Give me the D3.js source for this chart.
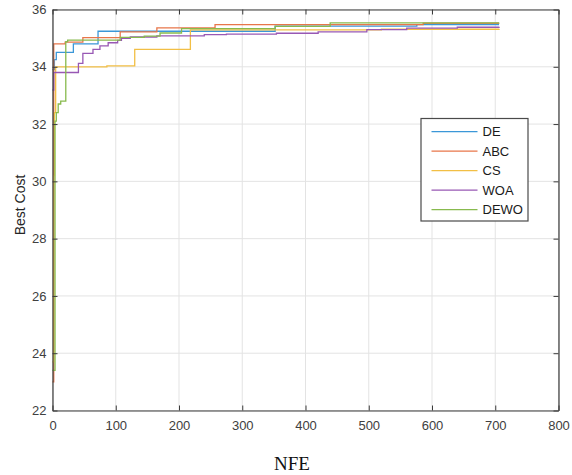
<!DOCTYPE html>
<html>
<head>
<meta charset="utf-8">
<script src="https://d3js.org/d3.v7.min.js"></script>
<style>
	body { margin: 0; background: #fff; }
	svg { display: block; }
	.tick text { font-family: "Liberation Sans", Arial, sans-serif; font-size: 13px; fill: #404040; }
</style>
</head>
<body>
<script>
	// chart size
	var w = 572;
	var h = 475;
	var m = {left: 52.5, right: 13.5, top: 9.5, bottom: 64.5};

	// data: [NFE, best cost] step points
	var names = ["DE", "ABC", "CS", "WOA", "DEWO"];
	var colors = ["#3b97d8", "#e8764a", "#f2bf45", "#9858b4", "#88ba4e"];
	var de = [[0,33.9],[3,34.25],[6,34.5],[33,34.8],[72,35.24],[352,35.42],[576,35.47],[706,35.47]];
	var abc = [[0,23.0],[2,34.8],[20,34.86],[48,35.02],[107,35.22],[165,35.36],[257,35.47],[586,35.52],[706,35.52]];
	var cs = [[0,23.7],[2,30.2],[3,32.4],[5,34.0],[86,34.03],[130,34.61],[218,35.29],[520,35.31],[706,35.33]];
	var woa = [[0,33.19],[2,33.8],[41,34.12],[48,34.47],[64,34.61],[75,34.73],[88,34.84],[103,34.92],[109,34.99],[123,35.04],[165,35.08],[240,35.12],[275,35.14],[354,35.17],[420,35.22],[497,35.3],[560,35.35],[640,35.38],[706,35.4]];
	var dewo = [[0,23.4],[4,32.1],[6,32.4],[9,32.7],[13,32.8],[21,34.88],[24,34.93],[107,35.03],[145,35.07],[170,35.18],[204,35.33],[352,35.41],[439,35.53],[706,35.54]];
	var series = [de, abc, cs, woa, dewo];
	var xTicks = [0,100,200,300,400,500,600,700,800];
	var yTicks = [22,24,26,28,30,32,34,36];

	var svg = d3.select("body").append("svg")
		.attr("width", w)
		.attr("height", h);

	var x = d3.scaleLinear().domain([0, 800]).range([m.left, w - m.right]);
	var y = d3.scaleLinear().domain([22, 36]).range([h - m.bottom, m.top]);

	// grid
	var grid = svg.append("g");
	xTicks.forEach(function(t) {
		grid.append("line").attr("x1", x(t)).attr("x2", x(t))
			.attr("y1", y(22)).attr("y2", y(36))
			.attr("stroke", "#e3e3e3").attr("stroke-width", 1);
	});
	yTicks.forEach(function(t) {
		grid.append("line").attr("x1", x(0)).attr("x2", x(800))
			.attr("y1", y(t)).attr("y2", y(t))
			.attr("stroke", "#e3e3e3").attr("stroke-width", 1);
	});

	// curves
	var line = d3.line()
		.x(function(d) { return x(d[0]); })
		.y(function(d) { return y(d[1]); })
		.curve(d3.curveStepAfter);
	series.forEach(function(s, i) {
		svg.append("path").datum(s)
			.attr("d", line)
			.attr("fill", "none")
			.attr("stroke", colors[i])
			.attr("stroke-width", 1.3);
	});

	// axes (ticks pointing inward, box all round)
	var tickLen = 5;
	svg.append("g").attr("transform", "translate(0," + y(22) + ")")
		.call(d3.axisBottom(x).tickValues(xTicks).tickSizeInner(-tickLen).tickSizeOuter(0).tickPadding(10));
	svg.append("g").attr("transform", "translate(0," + y(36) + ")")
		.call(d3.axisTop(x).tickValues(xTicks).tickSizeInner(-tickLen).tickSizeOuter(0).tickFormat(""));
	svg.append("g").attr("transform", "translate(" + x(0) + ",0)")
		.call(d3.axisLeft(y).tickValues(yTicks).tickSizeInner(-tickLen).tickSizeOuter(0).tickPadding(6));
	svg.append("g").attr("transform", "translate(" + x(800) + ",0)")
		.call(d3.axisRight(y).tickValues(yTicks).tickSizeInner(-tickLen).tickSizeOuter(0).tickFormat(""));
	svg.selectAll(".domain").attr("stroke", "#3a3a3a").attr("stroke-width", 1.2);
	svg.selectAll(".tick line").attr("stroke", "#3a3a3a");

	// axis titles
	svg.append("text")
		.text("NFE")
		.attr("x", 292).attr("y", 470)
		.attr("text-anchor", "middle")
		.attr("font-family", "'Liberation Serif', 'Times New Roman', serif")
		.attr("font-size", 19)
		.attr("fill", "#111");
	svg.append("text")
		.text("Best Cost")
		.attr("transform", "translate(25,205) rotate(-90)")
		.attr("text-anchor", "middle")
		.attr("font-family", "'Liberation Sans', Arial, sans-serif")
		.attr("font-size", 14)
		.attr("fill", "#262626");

	// legend
	var lg = svg.append("g");
	lg.append("rect")
		.attr("x", 421).attr("y", 118.5)
		.attr("width", 107).attr("height", 102.5)
		.attr("fill", "#fff").attr("stroke", "#4a4a4a").attr("stroke-width", 1.2);
	names.forEach(function(n, i) {
		var ly = 131.7 + i * 19.5;
		lg.append("line").attr("x1", 431.5).attr("x2", 477.5)
			.attr("y1", ly).attr("y2", ly)
			.attr("stroke", colors[i]).attr("stroke-width", 1.3);
		lg.append("text").text(n)
			.attr("x", 482.5).attr("y", ly + 4.6)
			.attr("font-family", "'Liberation Sans', Arial, sans-serif")
			.attr("font-size", 13)
			.attr("fill", "#1a1a1a");
	});
</script>
</body>
</html>
